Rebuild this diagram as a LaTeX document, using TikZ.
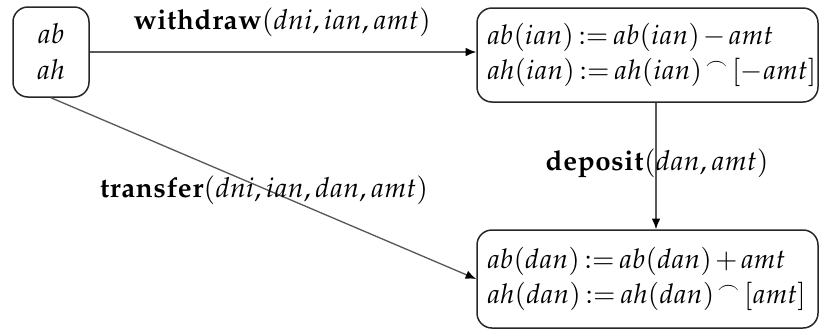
\documentclass[tikz,border=0pt]{standalone}
\usepackage{mathpazo}
\usetikzlibrary{arrows.meta}
\newcommand{\zcat}{\mathbin{{}^\frown}}
\newcommand{\zline}[1]{\mbox{$\thickmuskip=3mu\medmuskip=2mu #1$}}
\tikzset{
  box/.style={draw=black!85, rounded corners=4.5pt, line width=0.45pt, inner sep=0pt},
  wbox/.style={box, inner xsep=3pt, text width=96.3pt, align=left, font=\fontsize{8.15}{10.5}\selectfont},
  arr/.style={draw=black!65, line width=0.4pt, -{Latex[length=3.2pt,width=2.6pt,black]}},
  lbl/.style={inner sep=0pt}
}
\begin{document}
\begin{tikzpicture}[x=0.3pt,y=-0.3pt,font=\fontsize{8.3}{10.5}\selectfont]
\useasboundingbox (0,0) rectangle (822,332);
\node[box, minimum width=22.8pt, minimum height=27pt, align=center] (L) at (51,52) {$ab$\\[0.3pt]$ah$};
\node[wbox, minimum height=28.2pt] (TR) at (647.5,55)
  {\zline{ab(ian) := ab(ian) - amt}\\\zline{ah(ian) := ah(ian) \zcat [-amt]}};
\node[wbox, minimum height=29.4pt] (BR) at (647.5,279)
  {\zline{ab(dan) := ab(dan) + amt}\\\zline{ah(dan) := ah(dan) \zcat [amt]}};
\coordinate (vtop) at ([xshift=2.55pt]TR.south);
\coordinate (vbot) at ([xshift=2.55pt]BR.north);
\draw[arr] (L.east) -- (L.east -| TR.west);
\draw[arr] (vtop) -- (vbot);
\draw[arr] (L.south) -- (BR.west);
\node[lbl] (wl) at (282,22) {$\mathbf{withdraw}(dni,ian,amt)$};
\node[lbl] (dl) at (657,163) {$\mathbf{deposit}(dan,amt)$};
\node[lbl] (tl) at (264,190) {$\mathbf{transfer}(dni,ian,dan,amt)$};
\end{tikzpicture}
\end{document}
